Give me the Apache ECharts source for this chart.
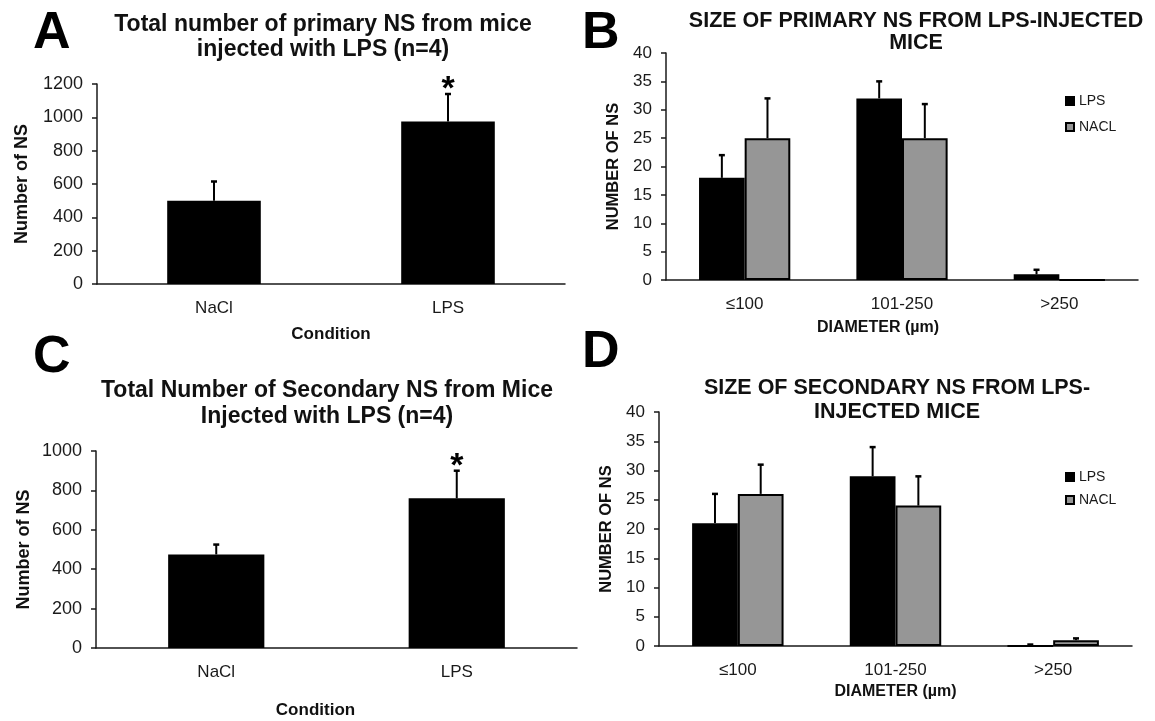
<!DOCTYPE html>
<html>
<head>
<meta charset="utf-8">
<script src="https://cdn.jsdelivr.net/npm/echarts@6/dist/echarts.min.js"></script>
<style>
html, body { margin: 0; padding: 0; background: #fff; }
#chart { width: 1155px; height: 721px; }
</style>
</head>
<body>
<div id="chart"></div>
<script>
// panel A / C: totals per condition
const conditions = ["NaCl", "LPS"];
const primaryTotal = [500, 975];
const primaryTotalSem = [115, 165];
const primaryTotalSig = ["", "*"];
const secondaryTotal = [475, 760];
const secondaryTotalSem = [50, 140];
const secondaryTotalSig = ["", "*"];

// panel B / D: size classes
const diameters = ["≤100", "101-250", ">250"];
const primaryLps = [18, 32, 1];
const primaryLpsSem = [4, 3, 0.8];
const primaryNacl = [25, 25, 0];
const primaryNaclSem = [7, 6, 0];
const secondaryLps = [21, 29, 0];
const secondaryLpsSem = [5, 5, 0.25];
const secondaryNacl = [26, 24, 1];
const secondaryNaclSem = [5, 5, 0.3];

const FONT = "Liberation Sans";
const INK = "#1a1a1a";
const GRAY = "#969696";

function errorData(means, sems) {
  return means.map((m, i) => [i, m, m + sems[i]]);
}

function errorBars(offset, marks) {
  return (params, api) => {
    const cat = api.value(0);
    const mean = api.coord([cat, api.value(1)]);
    const top = api.coord([cat, api.value(2)]);
    const x = mean[0] + api.size([1, 0])[0] * offset;
    const children = [];
    if (top[1] < mean[1]) {
      children.push({type: "line", shape: {x1: x, y1: mean[1], x2: x, y2: top[1]}, style: {stroke: "#000", lineWidth: 2}});
      children.push({type: "line", shape: {x1: x - 3, y1: top[1], x2: x + 3, y2: top[1]}, style: {stroke: "#000", lineWidth: 2.5}});
    }
    const mark = marks && marks[params.dataIndex];
    if (mark) {
      children.push({
        type: "text",
        style: {text: mark, x: x, y: top[1] + 13, align: "center", verticalAlign: "bottom",
          font: `bold 34px '${FONT}'`, fill: "#000"}
      });
    }
    return {type: "group", children: children};
  };
}

function xAxis(gridIndex, data, name, nameGap, labelSize, nameSize, namePad) {
  return {
    type: "category", gridIndex: gridIndex, data: data,
    axisLine: {lineStyle: {color: INK, width: 1.5}},
    axisTick: {length: 6, lineStyle: {color: INK, width: 1.5}},
    axisLabel: {fontSize: labelSize, color: INK, margin: 16, fontFamily: FONT},
    name: name, nameLocation: "middle", nameGap: nameGap, nameMoveOverlap: false,
    nameTextStyle: {fontWeight: "bold", fontSize: nameSize, color: "#111", fontFamily: FONT, padding: namePad || 0}
  };
}

function yAxis(gridIndex, max, interval, name, nameGap, labelSize, nameSize) {
  return {
    type: "value", gridIndex: gridIndex, min: 0, max: max, interval: interval,
    axisLine: {show: true, lineStyle: {color: INK, width: 1.5}},
    axisTick: {show: true, length: 5, lineStyle: {color: INK, width: 1.5}},
    splitLine: {show: false},
    axisLabel: {fontSize: labelSize, color: INK, margin: 14, fontFamily: FONT, formatter: v => String(v)},
    name: name, nameLocation: "middle", nameGap: nameGap, nameMoveOverlap: false,
    nameTextStyle: {fontWeight: "bold", fontSize: nameSize, color: "#111", fontFamily: FONT}
  };
}

function letter(text, left, top) {
  return {text: text, left: left, top: top, padding: 0, textAlign: "left",
    textStyle: {fontSize: 52, fontWeight: "bold", color: "#000", fontFamily: FONT}};
}

function heading(text, center, top, size, lineHeight) {
  return {text: text, left: center, top: top, padding: 0, textAlign: "center",
    textStyle: {fontSize: size, lineHeight: lineHeight, fontWeight: "bold", color: "#111", fontFamily: FONT}};
}

function legend(top, gap) {
  return {
    data: ["LPS", "NACL"], orient: "vertical", left: 1065, top: top, padding: 0,
    itemWidth: 8, itemHeight: 8, itemGap: gap, icon: "rect", selectedMode: false,
    textStyle: {fontSize: 14, color: INK, fontFamily: FONT}
  };
}

const blackBar = {color: "#000", borderColor: "#000", borderWidth: 2};
const grayBar = {color: GRAY, borderColor: "#000", borderWidth: 2};

const chart = echarts.init(document.getElementById("chart"));
chart.setOption({
  backgroundColor: "#fff",
  animation: false,
  textStyle: {fontFamily: FONT},
  title: [
    letter("A", 33, 8),
    letter("B", 582, 8),
    letter("C", 33, 332),
    letter("D", 582, 327),
    heading("Total number of primary NS from mice\ninjected with LPS (n=4)", 323, 12, 23, 25),
    heading("SIZE OF PRIMARY NS FROM LPS-INJECTED\nMICE", 916, 10, 21.5, 22),
    heading("Total Number of Secondary NS from Mice\nInjected with LPS (n=4)", 327, 378, 23, 26),
    heading("SIZE OF SECONDARY NS FROM LPS-\nINJECTED MICE", 897, 376, 21.5, 24)
  ],
  legend: [legend(94, 12), legend(470, 9)],
  grid: [
    {left: 97, top: 84, width: 468, height: 200, outerBoundsMode: "none"},
    {left: 666, top: 53, width: 472, height: 227, outerBoundsMode: "none"},
    {left: 96, top: 451, width: 481, height: 197, outerBoundsMode: "none"},
    {left: 659, top: 412, width: 473, height: 234, outerBoundsMode: "none"}
  ],
  xAxis: [
    xAxis(0, conditions, "Condition", 42, 17, 17),
    xAxis(1, diameters, "DIAMETER (µm)", 40, 17, 16, [0, 48, 0, 0]),
    xAxis(2, conditions, "Condition", 54, 17, 17, [0, 42, 0, 0]),
    xAxis(3, diameters, "DIAMETER (µm)", 38, 17, 16)
  ],
  yAxis: [
    yAxis(0, 1200, 200, "Number of NS", 66, 18, 18),
    yAxis(1, 40, 5, "NUMBER OF NS", 44, 17, 16.5),
    yAxis(2, 1000, 200, "Number of NS", 63, 18, 18),
    yAxis(3, 40, 5, "NUMBER OF NS", 44, 17, 16.5)
  ],
  series: [
    {name: "Primary total", type: "bar", xAxisIndex: 0, yAxisIndex: 0, barWidth: "40%",
      itemStyle: blackBar, data: primaryTotal},
    {type: "custom", xAxisIndex: 0, yAxisIndex: 0, z: 5, encode: {x: 0, y: 1},
      renderItem: errorBars(0, primaryTotalSig), data: errorData(primaryTotal, primaryTotalSem)},

    {name: "LPS", type: "bar", xAxisIndex: 1, yAxisIndex: 1, barWidth: "29%", barGap: "0%",
      itemStyle: blackBar, data: primaryLps},
    {name: "NACL", type: "bar", xAxisIndex: 1, yAxisIndex: 1, barWidth: "29%", barGap: "0%",
      itemStyle: grayBar, data: primaryNacl},
    {type: "custom", xAxisIndex: 1, yAxisIndex: 1, z: 5, encode: {x: 0, y: 1},
      renderItem: errorBars(-0.145), data: errorData(primaryLps, primaryLpsSem)},
    {type: "custom", xAxisIndex: 1, yAxisIndex: 1, z: 5, encode: {x: 0, y: 1},
      renderItem: errorBars(0.145), data: errorData(primaryNacl, primaryNaclSem)},

    {name: "Secondary total", type: "bar", xAxisIndex: 2, yAxisIndex: 2, barWidth: "40%",
      itemStyle: blackBar, data: secondaryTotal},
    {type: "custom", xAxisIndex: 2, yAxisIndex: 2, z: 5, encode: {x: 0, y: 1},
      renderItem: errorBars(0, secondaryTotalSig), data: errorData(secondaryTotal, secondaryTotalSem)},

    {name: "LPS", type: "bar", xAxisIndex: 3, yAxisIndex: 3, barWidth: "29%", barGap: "0%",
      itemStyle: blackBar, data: secondaryLps},
    {name: "NACL", type: "bar", xAxisIndex: 3, yAxisIndex: 3, barWidth: "29%", barGap: "0%",
      itemStyle: grayBar, data: secondaryNacl},
    {type: "custom", xAxisIndex: 3, yAxisIndex: 3, z: 5, encode: {x: 0, y: 1},
      renderItem: errorBars(-0.145), data: errorData(secondaryLps, secondaryLpsSem)},
    {type: "custom", xAxisIndex: 3, yAxisIndex: 3, z: 5, encode: {x: 0, y: 1},
      renderItem: errorBars(0.145), data: errorData(secondaryNacl, secondaryNaclSem)}
  ]
});
</script>
</body>
</html>
